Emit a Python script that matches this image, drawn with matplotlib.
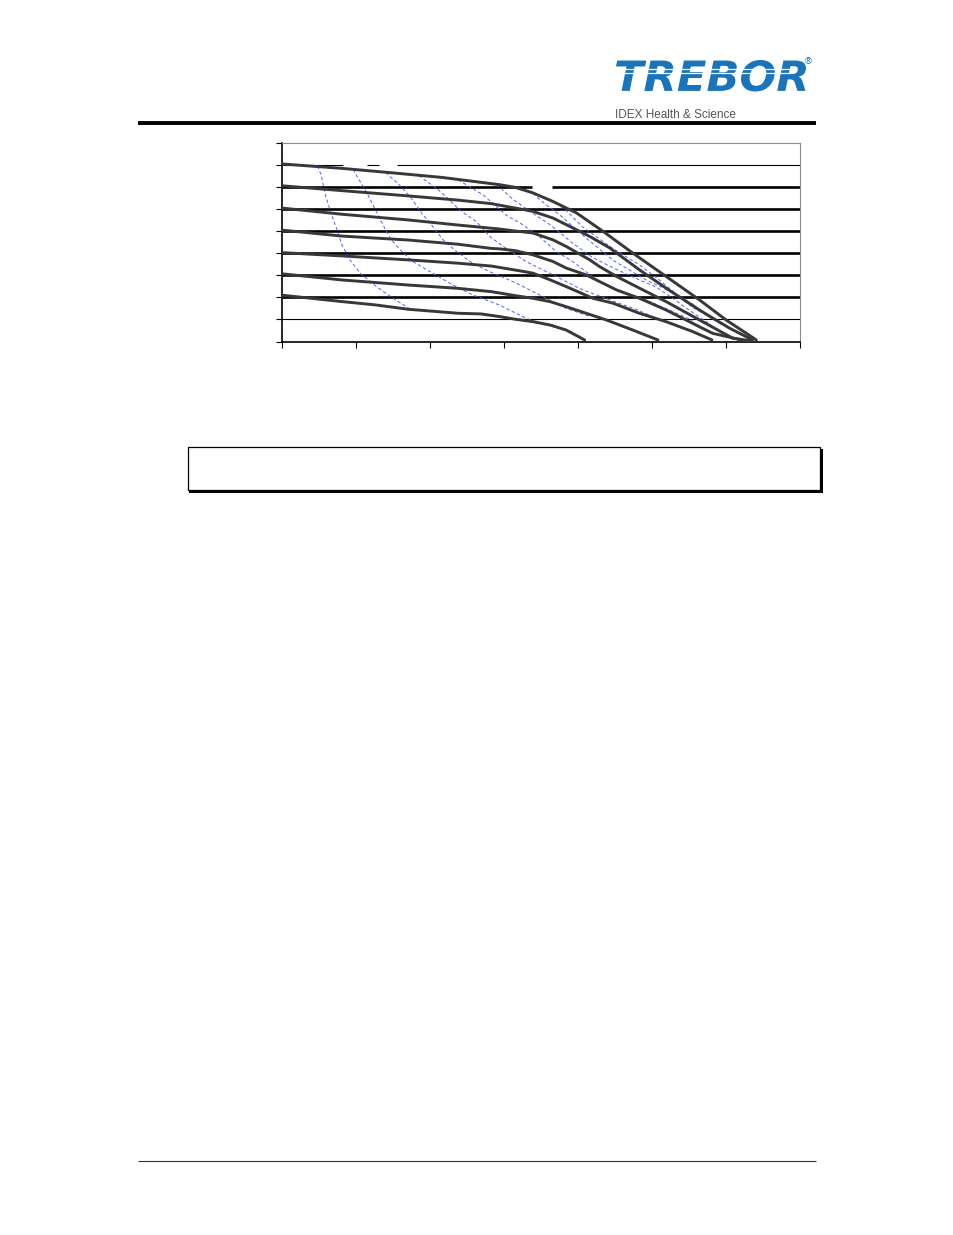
import matplotlib
matplotlib.use("Agg")
import matplotlib.pyplot as plt
from matplotlib.textpath import TextPath
from matplotlib.font_manager import FontProperties
from matplotlib.patches import PathPatch, Rectangle
from matplotlib.transforms import Affine2D
from matplotlib.lines import Line2D

# ---------------- data ----------------
# solid pump curves (top to bottom)
a_x = [0, 0.81, 1.48, 2.16, 2.61, 2.94, 3.15, 3.39, 3.66, 3.98, 4.34, 4.74, 5.19, 5.64, 6.00, 6.41]
a_y = [8.05, 7.85, 7.65, 7.44, 7.25, 7.11, 6.99, 6.74, 6.35, 5.83, 4.99, 4.01, 2.95, 1.89, 0.98, 0.07]
b_x = [0, 0.81, 1.71, 2.38, 2.83, 2.94, 3.15, 3.39, 3.66, 3.93, 4.16, 4.43, 4.83, 5.19, 5.64, 6.05, 6.36]
b_y = [7.06, 6.84, 6.60, 6.41, 6.25, 6.18, 6.05, 5.90, 5.60, 5.15, 4.76, 4.24, 3.25, 2.42, 1.43, 0.60, 0.07]
c_x = [0, 0.81, 1.71, 2.38, 2.94, 3.15, 3.39, 3.66, 3.84, 4.16, 4.29, 4.52, 4.83, 5.19, 5.64, 6.09, 6.32]
c_y = [6.05, 5.77, 5.51, 5.28, 5.10, 5.01, 4.92, 4.61, 4.31, 3.70, 3.40, 2.95, 2.42, 1.81, 0.98, 0.15, 0.04]
d_x = [0, 0.81, 1.71, 2.38, 2.83, 2.94, 3.15, 3.39, 3.66, 3.84, 4.11, 4.29, 4.52, 4.83, 5.19, 5.64, 5.82, 6.25]
d_y = [5.05, 4.78, 4.60, 4.41, 4.22, 4.20, 4.12, 3.93, 3.63, 3.33, 3.02, 2.72, 2.34, 1.96, 1.43, 0.67, 0.37, 0.04]
e_x = [0, 0.81, 1.71, 2.38, 2.83, 3.15, 3.39, 3.62, 3.84, 4.20, 4.47, 4.83, 5.19, 5.55, 5.81]
e_y = [4.03, 3.88, 3.70, 3.55, 3.42, 3.24, 3.10, 2.80, 2.49, 1.96, 1.74, 1.28, 0.90, 0.45, 0.07]
f_x = [0, 0.81, 1.71, 2.38, 2.83, 3.15, 3.39, 3.62, 3.84, 4.11, 4.38, 4.74, 5.08]
f_y = [3.07, 2.79, 2.56, 2.41, 2.26, 2.08, 1.96, 1.81, 1.58, 1.28, 0.98, 0.52, 0.07]
g_x = [0, 0.81, 1.26, 1.71, 2.38, 2.69, 2.94, 3.15, 3.39, 3.62, 3.84, 4.09]
g_y = [2.10, 1.81, 1.66, 1.46, 1.28, 1.25, 1.13, 1.01, 0.90, 0.75, 0.52, 0.07]
solid_curves = [(a_x, a_y), (b_x, b_y), (c_x, c_y), (d_x, d_y), (e_x, e_y), (f_x, f_y), (g_x, g_y)]

# blue dashed iso-lines (left to right)
d1_x = [0.48, 0.53, 0.58, 0.66, 0.73, 0.81, 0.92, 1.06, 1.28, 1.50, 1.75]
d1_y = [7.96, 7.55, 6.72, 5.84, 5.20, 4.37, 3.69, 3.09, 2.48, 1.96, 1.43]
d2_x = [0.96, 1.15, 1.32, 1.46, 1.62, 1.77, 2.04, 2.31, 2.58, 2.94, 3.30, 3.62]
d2_y = [7.80, 6.72, 5.58, 4.68, 4.07, 3.62, 3.09, 2.56, 2.11, 1.65, 1.05, 0.70]
d3_x = [1.40, 1.59, 1.75, 1.89, 2.04, 2.18, 2.36, 2.58, 2.81, 3.17, 3.57, 3.84, 4.15]
d3_y = [7.66, 7.09, 6.49, 5.81, 5.20, 4.60, 4.07, 3.54, 3.16, 2.64, 1.96, 1.50, 1.15]
d4_x = [1.85, 2.09, 2.22, 2.40, 2.63, 2.81, 3.03, 3.30, 3.48, 3.71, 4.02, 4.25, 4.50, 4.75, 5.00]
d4_y = [7.52, 6.94, 6.56, 5.96, 5.43, 4.75, 4.22, 3.62, 3.32, 2.94, 2.41, 2.11, 1.80, 1.50, 1.15]
d5_x = [2.38, 2.72, 3.03, 3.26, 3.48, 3.71, 3.93, 4.11, 4.25, 4.42, 4.92, 5.25, 5.55]
d5_y = [7.33, 6.64, 5.73, 5.28, 4.75, 4.07, 3.62, 3.16, 2.79, 2.48, 1.88, 1.40, 0.95]
d6_x = [2.90, 3.12, 3.35, 3.62, 3.93, 4.20, 4.50, 4.83, 5.05, 5.28, 5.45, 5.62, 5.80]
d6_y = [7.12, 6.45, 5.90, 5.30, 4.45, 3.80, 3.30, 2.79, 2.48, 1.96, 1.55, 1.15, 0.75]
d7_x = [3.39, 3.55, 3.75, 4.06, 4.47, 4.92, 5.14, 5.35, 5.55, 5.75, 5.95]
d7_y = [6.72, 6.25, 5.75, 4.83, 3.69, 2.79, 2.45, 2.05, 1.55, 1.15, 0.75]
d8_x = [3.70, 3.85, 4.06, 4.47, 4.83, 5.10, 5.37, 5.60]
d8_y = [6.30, 5.90, 5.20, 4.22, 3.47, 2.79, 2.03, 1.60]
dashed_curves = [(d1_x, d1_y), (d2_x, d2_y), (d3_x, d3_y), (d4_x, d4_y),
                 (d5_x, d5_y), (d6_x, d6_y), (d7_x, d7_y), (d8_x, d8_y)]

# horizontal gridlines: level, list of (start, end) segments
grid_levels = [1, 2, 3, 4, 5, 6, 7, 8]
grid_segments = {
    8: [(0, 0.83), (1.15, 1.31), (1.55, 7)],
    7: [(0, 3.38), (3.65, 7)],
}
thin_levels = [1, 8]

x_ticks = [0, 1, 2, 3, 4, 5, 6, 7]
y_ticks = [0, 1, 2, 3, 4, 5, 6, 7, 8, 9]

# ---------------- figure ----------------
W, H = 954, 1235
fig = plt.figure(figsize=(W / 100, H / 100), dpi=100)
fig.patch.set_facecolor("white")

def fx(px):
    return px / W

def fy(py):
    return 1 - py / H

ax = fig.add_axes([fx(282), fy(341.5), fx(800) - fx(282), fy(143) - fy(341.5)])
ax.set_xlim(0, 7)
ax.set_ylim(0, 9)

for lvl in grid_levels:
    segs = grid_segments.get(lvl, [(0, 7)])
    lw = 0.8 if lvl in thin_levels else 1.9
    for s0, s1 in segs:
        ax.plot([s0, s1], [lvl, lvl], color="black", lw=lw, solid_capstyle="butt", zorder=1)

for xs, ys in dashed_curves:
    ax.plot(xs, ys, color="#5060ff", lw=0.7, dashes=(3.5, 2.5), zorder=2)

for xs, ys in solid_curves:
    ax.plot(xs, ys, color="#383838", lw=2.1, solid_joinstyle="round",
            solid_capstyle="round", zorder=3)

ax.set_xticks(x_ticks)
ax.set_yticks(y_ticks)
ax.set_xticklabels([])
ax.set_yticklabels([])
ax.tick_params(direction="out", length=4, width=0.8, color="black")
for side in ("left", "bottom"):
    ax.spines[side].set_color("black")
    ax.spines[side].set_linewidth(1.2)
for side in ("top", "right"):
    ax.spines[side].set_color("#8a8a8a")
    ax.spines[side].set_linewidth(0.8)

# ---------------- page decoration ----------------
# logo
fp = FontProperties(family="DejaVu Sans", weight="bold", style="oblique")
tp = TextPath((0, 0), "TREBOR", size=1, prop=fp)
bb = tp.get_extents()
tx0, tx1 = fx(616), fx(806)
ty0, ty1 = fy(91.5), fy(60)
tr = (Affine2D().translate(-bb.x0, -bb.y0)
      .scale((tx1 - tx0) / bb.width, (ty1 - ty0) / bb.height)
      .translate(tx0, ty0) + fig.transFigure)
fig.add_artist(PathPatch(tp, transform=tr, facecolor="#1a74bb", edgecolor="none"))
for sy in (68.8, 73.2):
    fig.add_artist(Line2D([fx(622), fx(790)], [fy(sy), fy(sy)], transform=fig.transFigure,
                          color="white", lw=0.9, solid_capstyle="butt"))
fig.text(fx(808.5), fy(61.5), "®", fontsize=6.5, color="#1a74bb", ha="center", va="center",
         family="DejaVu Sans")
fig.text(fx(615), fy(114.5), "IDEX Health & Science", fontsize=8.5, color="#555555",
         ha="left", va="center", family="Liberation Sans")

# header rule
fig.add_artist(Line2D([fx(138), fx(816)], [fy(123), fy(123)], transform=fig.transFigure,
                      color="black", lw=2.8, solid_capstyle="butt"))
# footer rule
fig.add_artist(Line2D([fx(138), fx(816)], [fy(1161), fy(1161)], transform=fig.transFigure,
                      color="#333333", lw=0.8, solid_capstyle="butt"))

# caption box with shadow
fig.add_artist(Rectangle((fx(189.5), fy(492.5)), fx(823.5) - fx(189.5), fy(448.5) - fy(492.5),
                         transform=fig.transFigure, facecolor="black", edgecolor="none"))
fig.add_artist(Rectangle((fx(187.5), fy(489.5)), fx(820.5) - fx(187.5), fy(446.5) - fy(489.5),
                         transform=fig.transFigure, facecolor="white", edgecolor="black", lw=0.9))

fig.savefig("out.png", dpi=100, facecolor="white")
